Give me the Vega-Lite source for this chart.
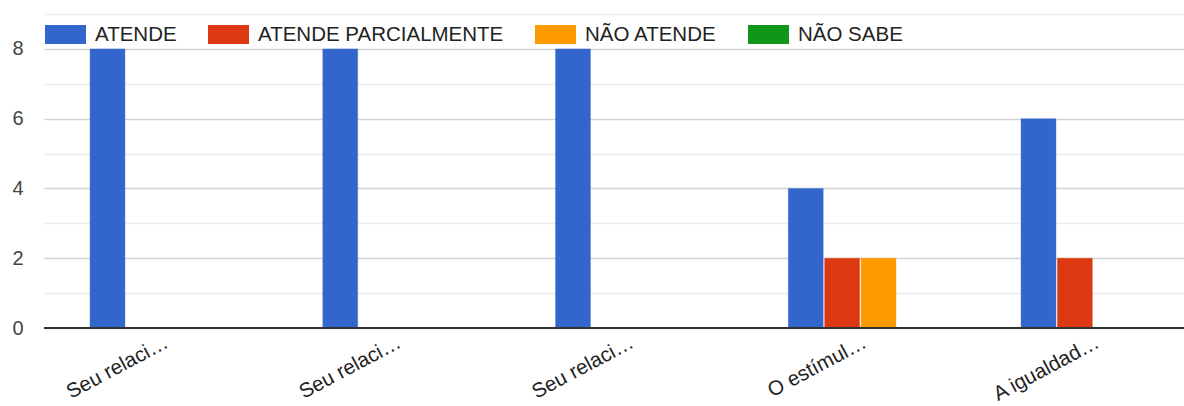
{
  "$schema": "https://vega.github.io/schema/vega-lite/v6.json",
  "width": 1140,
  "height": 314,
  "autosize": {"type": "none"},
  "padding": {"left": 44, "top": 14, "right": 0, "bottom": 78},
  "config": {
    "view": {"stroke": null},
    "font": "Liberation Sans",
    "axisY": {
      "title": null,
      "domain": false,
      "ticks": false,
      "labelFontSize": 20,
      "labelColor": "#444444",
      "labelPadding": 21,
      "gridWidth": 1.5
    }
  },
  "data": {
    "values": [
      {"q": "Seu relaci…", "s": "ATENDE", "v": 8},
      {"q": "Seu relaci…", "s": "ATENDE PARCIALMENTE", "v": 0},
      {"q": "Seu relaci…", "s": "NÃO ATENDE", "v": 0},
      {"q": "Seu relaci…", "s": "NÃO SABE", "v": 0},
      {"q": "Seu relaci… ", "s": "ATENDE", "v": 8},
      {"q": "Seu relaci… ", "s": "ATENDE PARCIALMENTE", "v": 0},
      {"q": "Seu relaci… ", "s": "NÃO ATENDE", "v": 0},
      {"q": "Seu relaci… ", "s": "NÃO SABE", "v": 0},
      {"q": "Seu relaci…  ", "s": "ATENDE", "v": 8},
      {"q": "Seu relaci…  ", "s": "ATENDE PARCIALMENTE", "v": 0},
      {"q": "Seu relaci…  ", "s": "NÃO ATENDE", "v": 0},
      {"q": "Seu relaci…  ", "s": "NÃO SABE", "v": 0},
      {"q": "O estímul…", "s": "ATENDE", "v": 4},
      {"q": "O estímul…", "s": "ATENDE PARCIALMENTE", "v": 2},
      {"q": "O estímul…", "s": "NÃO ATENDE", "v": 2},
      {"q": "O estímul…", "s": "NÃO SABE", "v": 0},
      {"q": "A igualdad…", "s": "ATENDE", "v": 6},
      {"q": "A igualdad…", "s": "ATENDE PARCIALMENTE", "v": 2},
      {"q": "A igualdad…", "s": "NÃO ATENDE", "v": 0},
      {"q": "A igualdad…", "s": "NÃO SABE", "v": 0}
    ]
  },
  "layer": [
    {
      "mark": {"type": "bar", "strokeWidth": 1, "strokeOpacity": 0.35},
      "encoding": {
        "x": {
          "field": "q",
          "type": "nominal",
          "sort": null,
          "scale": {"paddingInner": 0.381, "paddingOuter": 0.1395, "align": 0.709},
          "axis": {
            "title": null,
            "domain": false,
            "ticks": false,
            "labelAngle": -28,
            "labelAlign": "right",
            "labelBaseline": "top",
            "labelPadding": 4,
            "labelFontSize": 20.5,
            "labelColor": "#222222",
            "labelExpr": "trim(datum.label)"
          }
        },
        "xOffset": {
          "field": "s",
          "type": "nominal",
          "sort": ["ATENDE", "ATENDE PARCIALMENTE", "NÃO ATENDE", "NÃO SABE"],
          "scale": {"paddingInner": 0.04}
        },
        "y": {
          "field": "v",
          "type": "quantitative",
          "scale": {"domain": [0, 9], "nice": false},
          "axis": {
            "values": [0, 1, 2, 3, 4, 5, 6, 7, 8, 9],
            "labelExpr": "datum.value % 2 === 0 && datum.value < 9 ? datum.label : ''",
            "gridColor": {"condition": {"test": "datum.value % 2 === 0", "value": "#d4d4d4"}, "value": "#ebebeb"}
          }
        },
        "color": {
          "field": "s",
          "type": "nominal",
          "scale": {
            "domain": ["ATENDE", "ATENDE PARCIALMENTE", "NÃO ATENDE", "NÃO SABE"],
            "range": ["#3366cc", "#dc3912", "#ff9900", "#109618"]
          },
          "legend": {
            "title": null,
            "orient": "none",
            "legendX": 1,
            "legendY": 0,
            "direction": "horizontal",
            "symbolType": "M-1,-0.46H1V0.46H-1Z",
            "symbolSize": 1681,
            "symbolStrokeWidth": 0,
            "labelFontSize": 20.5,
            "labelColor": "#222222",
            "labelOffset": 9,
            "columnPadding": 31,
            "labelLimit": 400
          }
        },
        "stroke": {
          "field": "s",
          "type": "nominal",
          "scale": {
            "domain": ["ATENDE", "ATENDE PARCIALMENTE", "NÃO ATENDE", "NÃO SABE"],
            "range": ["#3366cc", "#dc3912", "#ff9900", "#109618"]
          },
          "legend": null
        }
      }
    },
    {
      "mark": {"type": "rule", "color": "#333333", "strokeWidth": 1.5},
      "encoding": {
        "y": {
          "datum": 0,
          "type": "quantitative",
          "axis": {
            "values": [0, 1, 2, 3, 4, 5, 6, 7, 8, 9],
            "labelExpr": "datum.value % 2 === 0 && datum.value < 9 ? datum.label : ''",
            "gridColor": {"condition": {"test": "datum.value % 2 === 0", "value": "#d4d4d4"}, "value": "#ebebeb"}
          }
        }
      }
    }
  ]
}
